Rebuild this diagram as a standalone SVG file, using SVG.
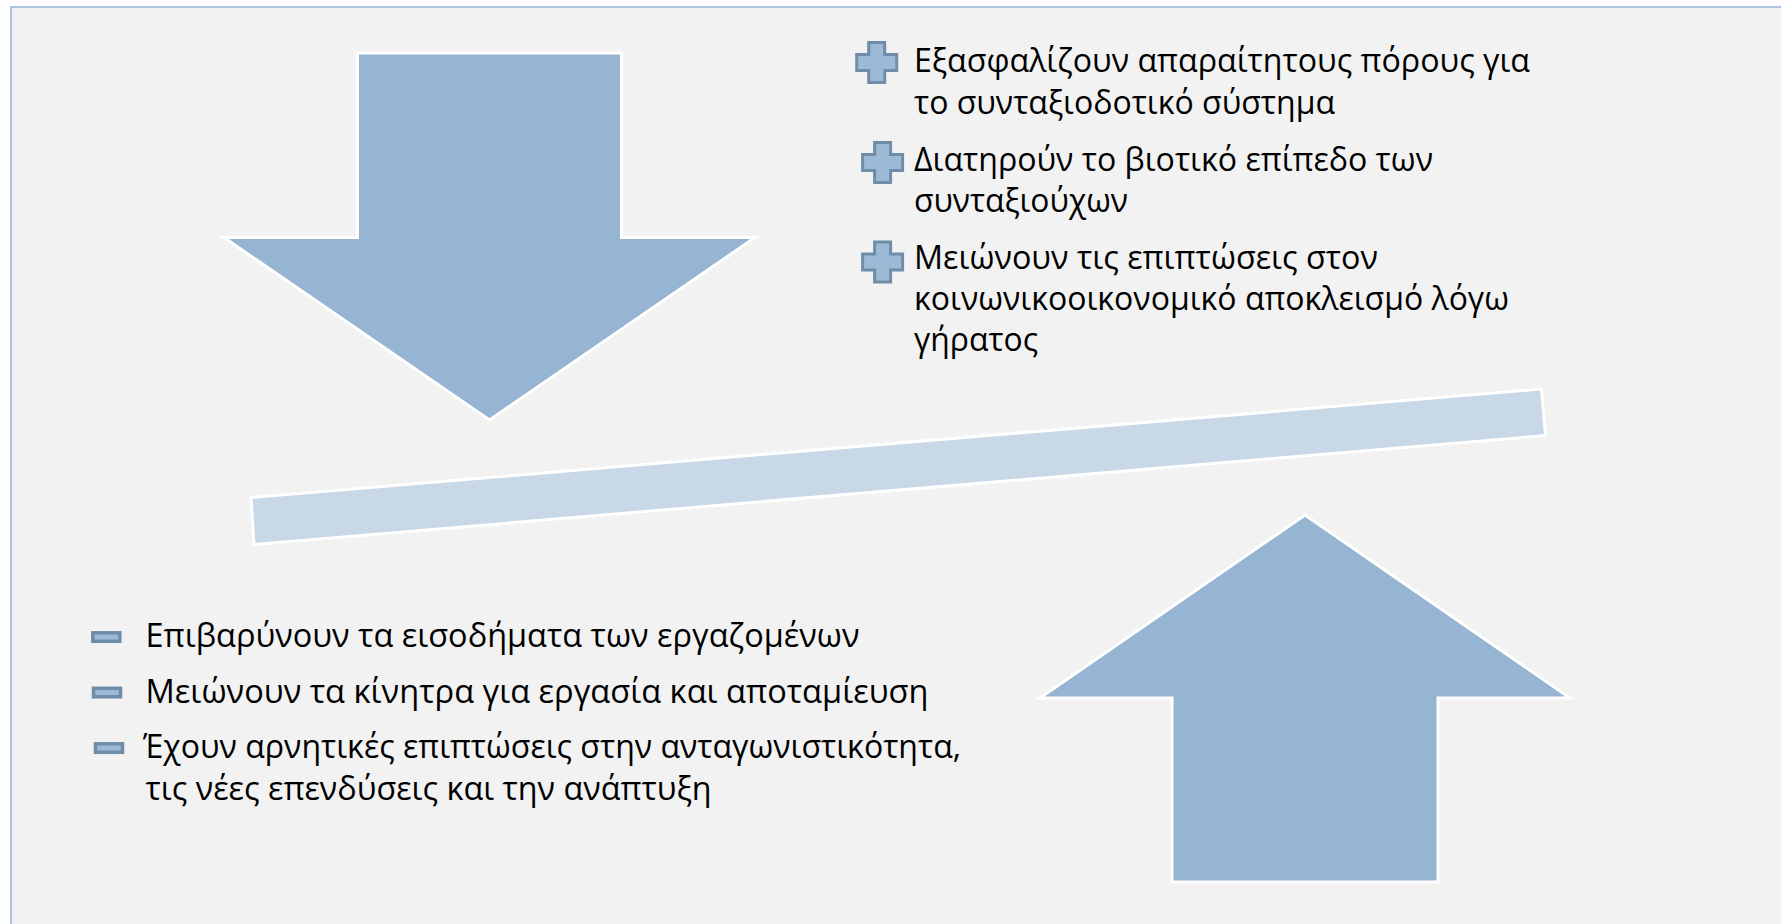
<svg xmlns="http://www.w3.org/2000/svg" width="1781" height="924" viewBox="0 0 1781 924">
<style>
.arrow{fill:#95B5D3;stroke:#FFFFFF;stroke-width:3}
.beam{fill:#C8D8E6;stroke:#FFFFFF;stroke-width:3}
.plus{fill:#9CB9D5;stroke:#6F8DA8;stroke-width:3}
.minus{fill:#9CB9D5;stroke:#6F8DA8;stroke-width:3.5}
.t{font-family:"Open Sans","Noto Sans","DejaVu Sans",sans-serif;font-size:33px;fill:#000000}
</style>
<defs>
<path id="plusShape" d="M-8,-20 h16 v12 h12 v16 h-12 v12 h-16 v-12 h-12 v-16 h12 z"/>
</defs>
<rect x="0" y="0" width="1781" height="924" fill="#FFFFFF"/>
<rect id="frame" x="11" y="7" width="1800" height="960" fill="#F2F2F2" stroke="#95B3D7" stroke-width="1.5"/>

<g id="arrow-down">
<polygon class="arrow" points="357.5,53 621.5,53 621.5,237.5 755,237.5 489.5,420 224,237.5 357.5,237.5"/>
</g>
<g id="arrow-up">
<polygon class="arrow" points="1305,515 1570,698 1438,698 1438,882 1172,882 1172,698 1040,698"/>
</g>
<g id="beam">
<polygon class="beam" points="251,497.5 1541.5,389 1545.5,435.5 254,544.5"/>
</g>

<g id="pros">
<g id="pro-1">
<use href="#plusShape" class="plus" transform="translate(876.7,62.5)"/>
<text class="t" x="914" y="72" textLength="616" lengthAdjust="spacingAndGlyphs">Εξασφαλίζουν απαραίτητους πόρους για</text>
<text class="t" x="914" y="114" textLength="421" lengthAdjust="spacingAndGlyphs">το συνταξιοδοτικό σύστημα</text>
</g>
<g id="pro-2">
<use href="#plusShape" class="plus" transform="translate(882.6,162.5)"/>
<text class="t" x="914" y="171" textLength="519" lengthAdjust="spacingAndGlyphs">Διατηρούν το βιοτικό επίπεδο των</text>
<text class="t" x="914" y="212" textLength="214" lengthAdjust="spacingAndGlyphs">συνταξιούχων</text>
</g>
<g id="pro-3">
<use href="#plusShape" class="plus" transform="translate(882.6,262)"/>
<text class="t" x="914" y="269" textLength="464" lengthAdjust="spacingAndGlyphs">Μειώνουν τις επιπτώσεις στον</text>
<text class="t" x="914" y="310" textLength="595" lengthAdjust="spacingAndGlyphs">κοινωνικοοικονομικό αποκλεισμό λόγω</text>
<text class="t" x="914" y="351" textLength="124" lengthAdjust="spacingAndGlyphs">γήρατος</text>
</g>
</g>

<g id="cons">
<g id="con-1">
<rect class="minus" x="92.8" y="632.8" width="27" height="8.5"/>
<text class="t" x="145.5" y="647" textLength="714" lengthAdjust="spacingAndGlyphs">Επιβαρύνουν τα εισοδήματα των εργαζομένων</text>
</g>
<g id="con-2">
<rect class="minus" x="93.5" y="688.3" width="27" height="8.5"/>
<text class="t" x="145.5" y="703" textLength="783" lengthAdjust="spacingAndGlyphs">Μειώνουν τα κίνητρα για εργασία και αποταμίευση</text>
</g>
<g id="con-3">
<rect class="minus" x="95.5" y="743.8" width="27" height="8.5"/>
<text class="t" x="143" y="758" textLength="818" lengthAdjust="spacingAndGlyphs">Έχουν αρνητικές επιπτώσεις στην ανταγωνιστικότητα,</text>
<text class="t" x="145.5" y="800" textLength="566" lengthAdjust="spacingAndGlyphs">τις νέες επενδύσεις και την ανάπτυξη</text>
</g>
</g>

<g id="connectors"/>
</svg>
